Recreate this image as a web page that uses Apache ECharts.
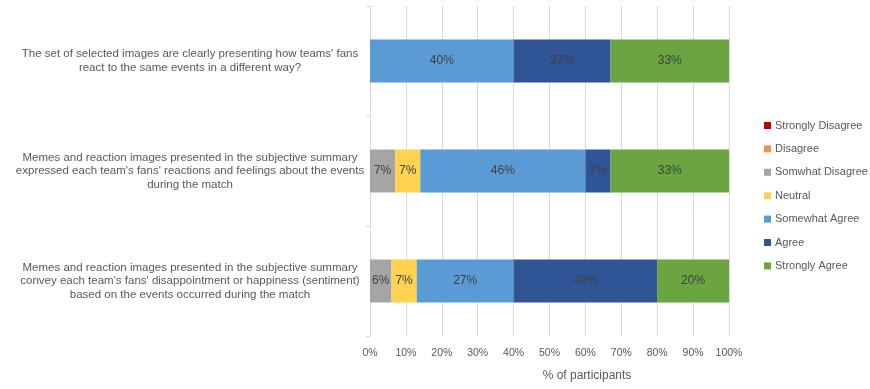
<!DOCTYPE html>
<html>
<head>
<meta charset="utf-8">
<script src="https://cdn.jsdelivr.net/npm/echarts@6/dist/echarts.min.js"></script>
<style>
  html, body { margin: 0; padding: 0; background: #ffffff; }
  #chart { width: 870px; height: 389px; }
</style>
</head>
<body>
<div id="chart"></div>
<script>
// Survey statements (top to bottom)
var statements = [
  "The set of selected images are clearly presenting how teams' fans\nreact to the same events in a different way?",
  "Memes and reaction images presented in the subjective summary\nexpressed each team's fans' reactions and feelings about the events\nduring the match",
  "Memes and reaction images presented in the subjective summary\nconvey each team's fans' disappointment or happiness (sentiment)\nbased on the events occurred during the match"
];

// Response shares, % of participants, one value per statement
var stronglyDisagree = [0, 0, 0];
var disagree         = [0, 0, 0];
var somewhatDisagree = [0, 7, 6];
var neutral          = [0, 7, 7];
var somewhatAgree    = [40, 46, 27];
var agree            = [27, 7, 40];
var stronglyAgree    = [33, 33, 20];

var responseNames = ['Strongly Disagree', 'Disagree', 'Somwhat Disagree', 'Neutral',
                     'Somewhat Agree', 'Agree', 'Strongly Agree'];
var responseValues = [stronglyDisagree, disagree, somewhatDisagree, neutral,
                      somewhatAgree, agree, stronglyAgree];
var responseColors = ['#c00000', '#f39150', '#a5a5a5', '#ffd34f', '#5b9bd5', '#2f5597', '#6aa542'];

var axisTicks = [0, 10, 20, 30, 40, 50, 60, 70, 80, 90, 100];

var textColor = '#595959';
var fontFamily = "'Liberation Sans', Arial, sans-serif";

var series = responseNames.map(function (name, i) {
  return {
    name: name,
    type: 'bar',
    stack: 'total',
    barWidth: 43,
    data: responseValues[i],
    itemStyle: { color: responseColors[i] },
    label: {
      show: true,
      position: 'inside',
      color: '#404040',
      fontSize: 12,
      fontFamily: fontFamily,
      formatter: function (p) { return p.value > 0 ? p.value + '%' : ''; }
    }
  };
});

var chart = echarts.init(document.getElementById('chart'), null, { renderer: 'canvas' });
chart.setOption({
  animation: false,
  backgroundColor: '#ffffff',
  grid: { left: 370, right: 141, top: 6, bottom: 53, containLabel: false },
  legend: {
    orient: 'vertical',
    left: 764,
    top: 119,
    padding: 0,
    itemWidth: 7,
    itemHeight: 7,
    itemGap: 10.4,
    icon: 'rect',
    data: responseNames,
    textStyle: { color: textColor, fontSize: 11, fontFamily: fontFamily, lineHeight: 13, padding: [0, 0, 0, -1] }
  },
  xAxis: {
    type: 'value',
    min: axisTicks[0],
    max: axisTicks[axisTicks.length - 1],
    interval: axisTicks[1] - axisTicks[0],
    axisLine: { show: false },
    axisTick: { show: false },
    splitLine: { show: true, lineStyle: { color: '#d9d9d9', width: 1 } },
    axisLabel: {
      color: textColor, fontSize: 10.5, fontFamily: fontFamily, margin: 12,
      formatter: '{value}%'
    },
    name: '% of participants',
    nameLocation: 'middle',
    nameGap: 34,
    nameTextStyle: { color: textColor, fontSize: 12, fontFamily: fontFamily, padding: [0, 0, 0, 75] }
  },
  yAxis: {
    type: 'category',
    inverse: true,
    data: statements,
    axisLine: { show: true, lineStyle: { color: '#d9d9d9' } },
    axisTick: { show: true, length: 4, lineStyle: { color: '#d9d9d9' } },
    axisLabel: {
      color: textColor, fontSize: 11.5, fontFamily: fontFamily,
      align: 'center', margin: 180, lineHeight: 13.5
    }
  },
  series: series
});
</script>
</body>
</html>
